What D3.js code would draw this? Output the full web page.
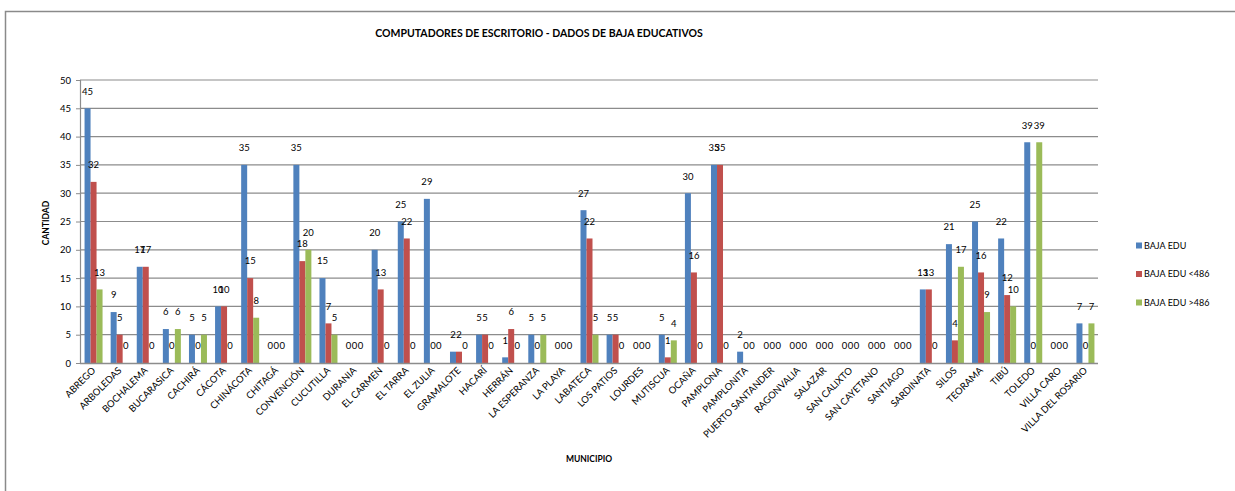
<!DOCTYPE html>
<html><head><meta charset="utf-8">
<script src="https://cdn.jsdelivr.net/npm/d3@7"></script>
<style>
body{margin:0;background:#fff;}
text{font-family:Lato,"Open Sans",sans-serif;fill:#000;}
</style></head>
<body>
<svg id="c" width="1235" height="491"></svg>
<script>
const municipios = ["ABREGO","ARBOLEDAS","BOCHALEMA","BUCARASICA","CACHIRÁ","CÁCOTA","CHINÁCOTA","CHITAGÁ","CONVENCIÓN","CUCUTILLA","DURANIA","EL CARMEN","EL TARRA","EL ZULIA","GRAMALOTE","HACARÍ","HERRÁN","LA ESPERANZA","LA PLAYA","LABATECA","LOS PATIOS","LOURDES","MUTISCUA","OCAÑA","PAMPLONA","PAMPLONITA","PUERTO SANTANDER","RAGONVALIA","SALAZAR","SAN CALIXTO","SAN CAYETANO","SANTIAGO","SARDINATA","SILOS","TEORAMA","TIBÚ","TOLEDO","VILLA CARO","VILLA DEL ROSARIO"];
const seriesNames = ["BAJA EDU","BAJA EDU <486","BAJA EDU >486"];
const bajaEdu     = [45,9,17,6,5,10,35,0,35,15,0,20,25,29,2,5,1,5,0,27,5,0,5,30,35,2,0,0,0,0,0,0,13,21,25,22,39,0,7];
const bajaEduLt   = [32,5,17,0,0,10,15,0,18,7,0,13,22,0,2,5,6,0,0,22,5,0,1,16,35,0,0,0,0,0,0,0,13,4,16,12,0,0,0];
const bajaEduGt   = [13,0,0,6,5,0,8,0,20,5,0,0,0,0,0,0,0,5,0,5,0,0,4,0,0,0,0,0,0,0,0,0,0,17,9,10,39,0,7];
const yTicks = [0,5,10,15,20,25,30,35,40,45,50];
const colors = ["#4F81BD","#C0504D","#9BBB59"];
const title = "COMPUTADORES DE ESCRITORIO - DADOS DE BAJA EDUCATIVOS";

const values = [bajaEdu, bajaEduLt, bajaEduGt];
const svg = d3.select("#c");

// chart border
svg.append("rect").attr("x",5.5).attr("y",11.5).attr("width",1300).attr("height",600)
  .attr("fill","none").attr("stroke","#8a8a8a").attr("stroke-width",1.5);

const x = d3.scaleBand().domain(municipios).range([80,1098]).paddingInner(0).paddingOuter(0);
const y = d3.scaleLinear().domain([0,50]).range([363,80]);
const xs = d3.scaleBand().domain([0,1,2]).range([-8.5,9.5]);

// gridlines
svg.append("g").selectAll("line").data(yTicks.filter(d=>d>0)).join("line")
  .attr("x1",80).attr("x2",1098).attr("y1",d=>y(d)).attr("y2",d=>y(d))
  .attr("stroke","#8c8c8c").attr("stroke-width",1.2);

// y axis
const ya = svg.append("g").attr("transform","translate(80,0)")
  .call(d3.axisLeft(y).tickValues(yTicks).tickSize(4).tickPadding(5));
ya.select(".domain").attr("stroke","#8c8c8c").attr("stroke-width",1.2);
ya.selectAll(".tick line").attr("stroke","#8c8c8c");
ya.selectAll("text").attr("font-size","9.5px").attr("font-family","Lato,'Open Sans',sans-serif").attr("fill","#000");

// bars
const groups = svg.append("g").selectAll("g").data(municipios).join("g")
  .attr("transform",d=>`translate(${x(d)+x.bandwidth()/2},0)`);
groups.each(function(m,i){
  const g = d3.select(this);
  [0,1,2].forEach(s=>{
    const v = values[s][i];
    g.append("rect").attr("x",xs(s)).attr("width",xs.bandwidth())
      .attr("y",y(v)).attr("height",y(0)-y(v)).attr("fill",colors[s]);
  });
  [0,1,2].forEach(s=>{
    const v = values[s][i];
    g.append("text").attr("x",xs(s)+xs.bandwidth()/2).attr("y",y(v)-17)
      .attr("dy","0.35em").attr("text-anchor","middle").attr("font-size","9.5px").text(v);
  });
});

// x axis line
svg.append("line").attr("x1",80).attr("x2",1098).attr("y1",363.5).attr("y2",363.5)
  .attr("stroke","#8c8c8c").attr("stroke-width",1.5);

// x labels
svg.append("g").selectAll("text").data(municipios).join("text")
  .attr("transform",d=>`translate(${x(d)+x.bandwidth()/2+3},371) rotate(-45)`)
  .attr("text-anchor","end").attr("font-size","9.5px").text(d=>d);

// title
svg.append("text").attr("x",539).attr("y",37).attr("text-anchor","middle")
  .attr("font-size","10.5px").attr("font-weight","bold").text(title);

// axis titles
svg.append("text").attr("transform","translate(49,223) rotate(-90)").attr("text-anchor","middle")
  .attr("font-size","8.5px").attr("font-weight","bold").text("CANTIDAD");
svg.append("text").attr("x",589).attr("y",462).attr("text-anchor","middle")
  .attr("font-size","8.5px").attr("font-weight","bold").text("MUNICIPIO");

// legend
const lg = svg.append("g").selectAll("g").data(seriesNames).join("g")
  .attr("transform",(d,i)=>`translate(1136,${245.5+i*28.5})`);
lg.append("rect").attr("x",0).attr("y",-3).attr("width",6).attr("height",6).attr("fill",(d,i)=>colors[i]);
lg.append("text").attr("x",8).attr("y",0).attr("dy","0.35em").attr("font-size","9px").text(d=>d);
</script>
</body></html>
